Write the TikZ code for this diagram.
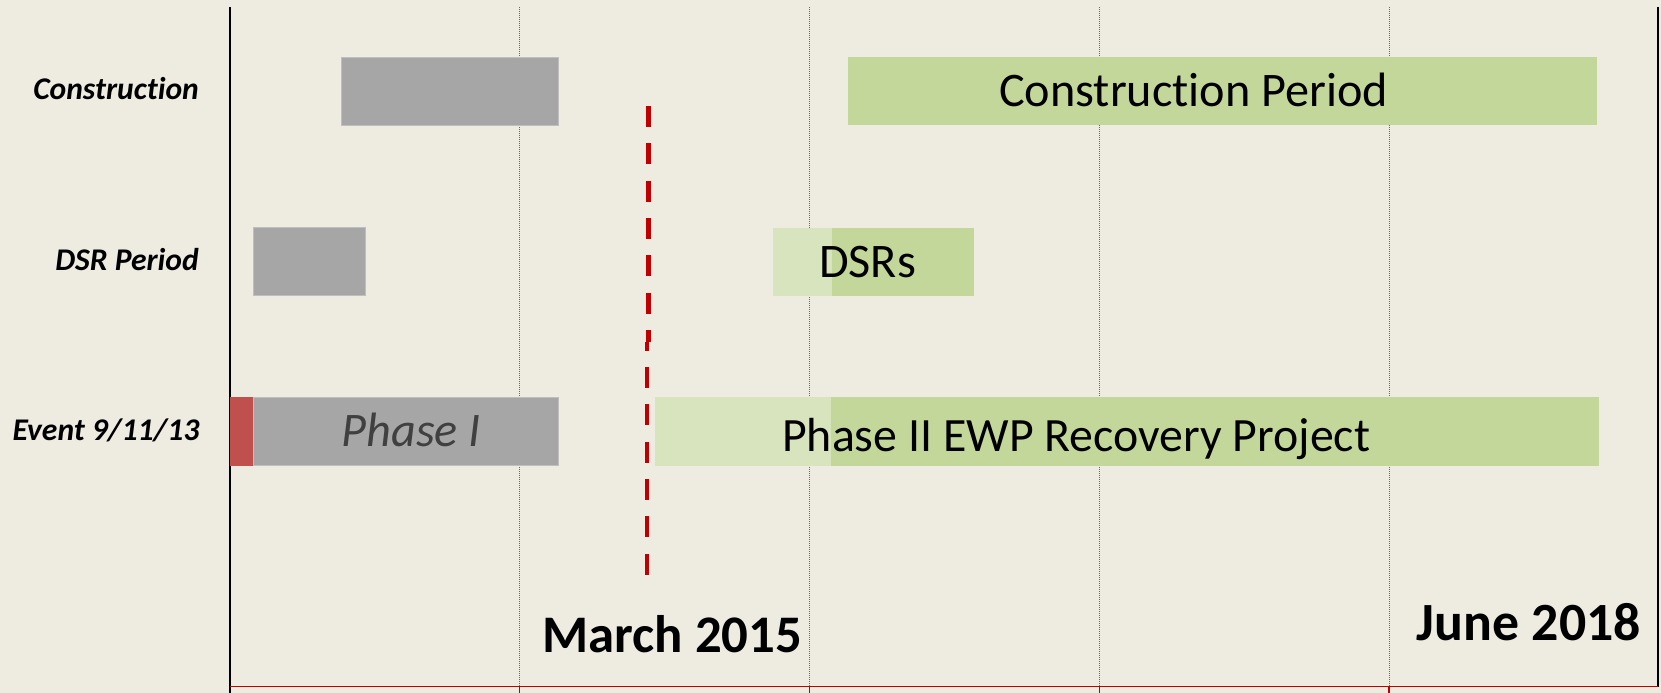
\documentclass[tikz,border=0pt]{standalone}
\usepackage{fontspec}
\setmainfont[Ligatures=NoCommon]{Carlito}
\definecolor{bg}{HTML}{EEECE1}
\definecolor{barGrey}{HTML}{A6A6A6}
\definecolor{barEdge}{HTML}{BFBFBF}
\definecolor{evRed}{HTML}{C0504D}
\definecolor{greenDark}{HTML}{C4D79B}
\definecolor{greenLight}{HTML}{D7E4BD}
\definecolor{darkRed}{HTML}{C00000}
\definecolor{phaseText}{HTML}{404040}
\tikzset{
  gridline/.style={draw=red!85, line width=0.8pt, dash pattern=on 1bp off 1bp},
  axisline/.style={draw=black, line width=2bp},
  baseline red/.style={draw=darkRed, line width=1.33bp},
  greybar/.style={fill=barGrey, draw=barEdge, line width=1bp},
  cutline/.style={draw=darkRed, line width=4.5bp, dash pattern=on 21bp off 16.3bp},
  rowlabel/.style={inner sep=0pt, anchor=base east, font=\fontsize{31.7}{36}\selectfont\bfseries\itshape},
  bartext/.style={inner sep=0pt, anchor=base west, font=\fontsize{48.4}{56}\selectfont},
  datetext/.style={inner sep=0pt, anchor=base west, font=\fontsize{53}{60}\selectfont\bfseries},
}
\begin{document}
\begin{tikzpicture}[x=1bp,y=-1bp]
\useasboundingbox[fill=bg] (0,0) rectangle (1661,693);
% grid
\foreach \gx in {519.5,809.3,1099.3,1389} {
  \draw[gridline] (\gx,7) -- (\gx,686);
  \draw[baseline red] (\gx,686) -- (\gx,693);
}
% axes
\draw[axisline] (229.5,7) -- (229.5,693);
\draw[axisline] (1658,7) -- (1658,686.5);
\draw[baseline red] (229.5,686.5) -- (1658,686.5);
% construction row
\filldraw[greybar] (341.4,57.5) rectangle (558.7,125.3);
\fill[greenDark] (848.2,57.5) rectangle (1596.7,125.3);
% DSR row
\filldraw[greybar] (253,227.7) rectangle (365,295.7);
\fill[greenLight] (773.2,227.7) rectangle (831.7,295.7);
\fill[greenDark] (831.7,227.7) rectangle (974.1,295.7);
% event row
\fill[evRed] (229.5,397.3) rectangle (253,465.7);
\filldraw[greybar] (253,397.3) rectangle (558.5,465.7);
\fill[greenLight] (654.9,397.3) rectangle (830.8,465.7);
\fill[greenDark] (830.8,397.3) rectangle (1599,465.7);
% cut line
\draw[cutline] (648.3,106) -- (648.3,342);
\draw[cutline, dash phase=12.2bp] (646.9,342) -- (646.9,575);
% labels
\node[rowlabel] (lcon) at (199,100) {Construction};
\node[rowlabel] (ldsr) at (199,270) {DSR Period};
\node[rowlabel] (levt) at (199.6,440) {Event 9/11/13};
\node[bartext, font=\fontsize{48.4}{56}\selectfont\itshape, text=phaseText] (tph1) at (341.5,446.7) {Phase I};
\node[bartext] (tcon) at (999,106.5) {Construction Period};
\node[bartext] (tdsr) at (819,277.3) {DSRs};
\node[bartext, font=\fontsize{48}{56}\selectfont] (tph2) at (782,451.7) {Phase II EWP Recovery Project};
\node[datetext] (tmar) at (542.4,652.7) {March 2015};
\node[datetext, font=\fontsize{54}{62}\selectfont\bfseries] (tjun) at (1416.7,640.7) {June 2018};
\end{tikzpicture}
\end{document}
